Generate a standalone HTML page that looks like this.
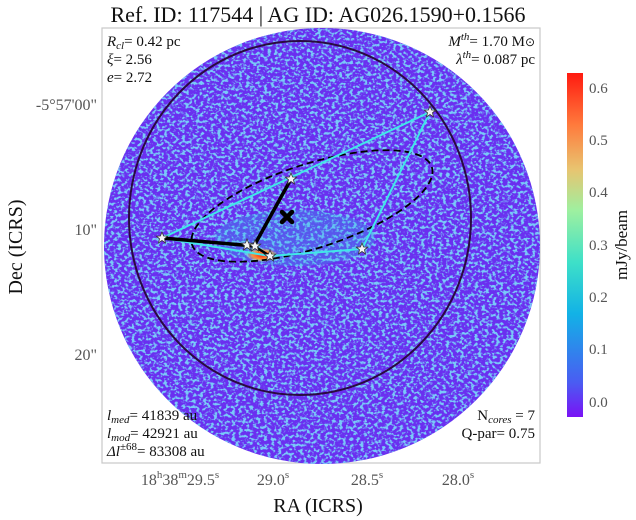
<!DOCTYPE html>
<html><head><meta charset="utf-8"><style>
body{margin:0;background:#fff;width:636px;height:520px;overflow:hidden}
svg{display:block}
text{font-family:"Liberation Serif",serif;fill:#111}
</style></head><body>
<svg width="636" height="520" viewBox="0 0 636 520">
<defs>
<filter id="noise" x="0" y="0" width="100%" height="100%">
<feTurbulence type="fractalNoise" baseFrequency="0.28 0.34" numOctaves="2" seed="3" result="t"/>
<feColorMatrix in="t" type="matrix" values="0 0 0 0 0.2  0 0 0 0 0.78  0 0 0 0 0.95  0 0 0 6 -2.9" result="c"/>
<feComposite in="c" in2="SourceGraphic" operator="in"/>
</filter>
<clipPath id="cc"><circle cx="322" cy="246" r="218"/></clipPath>
<linearGradient id="cb" x1="0" y1="1" x2="0" y2="0">
<stop offset="0" stop-color="#7a12f5"/>
<stop offset="0.1" stop-color="#4a5cf2"/>
<stop offset="0.3" stop-color="#12b2e6"/>
<stop offset="0.45" stop-color="#3ee0c8"/>
<stop offset="0.6" stop-color="#9ef0a0"/>
<stop offset="0.72" stop-color="#e8c470"/>
<stop offset="0.85" stop-color="#ff7a3c"/>
<stop offset="1" stop-color="#ff1a10"/>
</linearGradient>
<radialGradient id="hot"><stop offset="0" stop-color="#ff2010"/><stop offset="0.55" stop-color="#ff8a30"/><stop offset="1" stop-color="#ffd060" stop-opacity="0"/></radialGradient>
<polygon id="st" points="0,-6 1.6,-2 5.7,-1.9 2.5,0.8 3.5,4.9 0,2.5 -3.5,4.9 -2.5,0.8 -5.7,-1.9 -1.6,-2" fill="#f4f4f4" stroke="#333" stroke-width="0.8"/>
</defs>
<text x="318" y="22" font-size="22" text-anchor="middle">Ref. ID: 117544 | AG ID: AG026.1590+0.1566</text>
<rect x="102" y="28" width="438" height="435" fill="#fff" stroke="#c8c8c8" stroke-width="1.2"/>
<g clip-path="url(#cc)">
<rect x="100" y="26" width="444" height="440" fill="#6a2ff0"/>
<rect x="100" y="26" width="444" height="440" fill="#fff" filter="url(#noise)" opacity="0.85"/>
<ellipse cx="295" cy="238" rx="80" ry="28" fill="#2fb7e8" opacity="0.3"/>
<ellipse cx="262" cy="255" rx="16" ry="7" fill="url(#hot)"/>
</g>
<ellipse cx="300" cy="218" rx="171" ry="177" fill="none" stroke="#2a0a40" stroke-width="2"/>
<ellipse cx="312" cy="206" rx="126" ry="42" transform="rotate(-18 312 206)" fill="none" stroke="#000" stroke-width="1.8" stroke-dasharray="7,4"/>
<g stroke="#40e8e8" stroke-width="2" fill="none">
<line x1="162" y1="238" x2="430" y2="112"/>
<line x1="162" y1="238" x2="270" y2="256"/>
<line x1="270" y1="256" x2="362" y2="249"/>
<line x1="362" y1="249" x2="430" y2="112"/>
</g>
<g stroke="#000" fill="none" stroke-linecap="round">
<line x1="162" y1="238" x2="254" y2="246" stroke-width="3.5"/>
<line x1="291" y1="179" x2="254" y2="246" stroke-width="3.5"/>
<line x1="254" y1="246" x2="270" y2="256" stroke-width="2.5"/>
</g>
<g stroke="#000" stroke-width="4.5" stroke-linecap="round"><line x1="282" y1="212" x2="292" y2="222"/><line x1="292" y1="212" x2="282" y2="222"/></g>
<use href="#st" x="430" y="112"/>
<use href="#st" x="291" y="179"/>
<use href="#st" x="162" y="238"/>
<use href="#st" x="247" y="245"/>
<use href="#st" x="255" y="246"/>
<use href="#st" x="270" y="256"/>
<use href="#st" x="362" y="249"/>
<g font-size="15">
<text x="107" y="46"><tspan font-style="italic">R</tspan><tspan font-size="11" dy="3" font-style="italic">cl</tspan><tspan dy="-3">= 0.42 pc</tspan></text>
<text x="107" y="64"><tspan font-style="italic">ξ</tspan>= 2.56</text>
<text x="107" y="82"><tspan font-style="italic">e</tspan>= 2.72</text>
<text x="535" y="46" text-anchor="end"><tspan font-style="italic">M</tspan><tspan font-size="11" dy="-6" font-style="italic">th</tspan><tspan dy="6">= 1.70 M</tspan><tspan font-size="12">⊙</tspan></text>
<text x="535" y="64" text-anchor="end"><tspan font-style="italic">λ</tspan><tspan font-size="11" dy="-6" font-style="italic">th</tspan><tspan dy="6">= 0.087 pc</tspan></text>
<text x="107" y="420"><tspan font-style="italic">l</tspan><tspan font-size="11" dy="3" font-style="italic">med</tspan><tspan dy="-3">= 41839 au</tspan></text>
<text x="107" y="438"><tspan font-style="italic">l</tspan><tspan font-size="11" dy="3" font-style="italic">mod</tspan><tspan dy="-3">= 42921 au</tspan></text>
<text x="107" y="456"><tspan font-style="italic">Δl</tspan><tspan font-size="11" dy="-6">±68</tspan><tspan dy="6">= 83308 au</tspan></text>
<text x="535" y="420" text-anchor="end">N<tspan font-size="11" dy="3" font-style="italic">cores</tspan><tspan dy="-3"> = 7</tspan></text>
<text x="535" y="438" text-anchor="end">Q-par= 0.75</text>
</g>
<g font-size="16">
<text x="97" y="110" text-anchor="end" style="fill:#555">-5°57'00"</text>
<text x="97" y="235" text-anchor="end" style="fill:#555">10"</text>
<text x="97" y="360" text-anchor="end" style="fill:#555">20"</text>
<text x="180" y="485" text-anchor="middle" style="fill:#555">18<tspan font-size="11" dy="-7">h</tspan><tspan dy="7">38</tspan><tspan font-size="11" dy="-7">m</tspan><tspan dy="7">29.5</tspan><tspan font-size="11" dy="-7">s</tspan></text>
<text x="273" y="485" text-anchor="middle" style="fill:#555">29.0<tspan font-size="11" dy="-7">s</tspan></text>
<text x="367" y="485" text-anchor="middle" style="fill:#555">28.5<tspan font-size="11" dy="-7">s</tspan></text>
<text x="458" y="485" text-anchor="middle" style="fill:#555">28.0<tspan font-size="11" dy="-7">s</tspan></text>
</g>
<text x="318" y="512" font-size="20" text-anchor="middle">RA (ICRS)</text>
<text x="0" y="0" font-size="20" text-anchor="middle" transform="translate(22 247) rotate(-90)">Dec (ICRS)</text>
<rect x="567" y="73" width="16" height="344" fill="url(#cb)"/>
<g font-size="15">
<text x="589" y="93" style="fill:#555">0.6</text>
<text x="589" y="145" style="fill:#555">0.5</text>
<text x="589" y="197" style="fill:#555">0.4</text>
<text x="589" y="250" style="fill:#555">0.3</text>
<text x="589" y="302" style="fill:#555">0.2</text>
<text x="589" y="354" style="fill:#555">0.1</text>
<text x="589" y="407" style="fill:#555">0.0</text>
</g>
<text x="0" y="0" font-size="17" text-anchor="middle" transform="translate(627 245) rotate(-90)">mJy/beam</text>
</svg>
</body></html>
